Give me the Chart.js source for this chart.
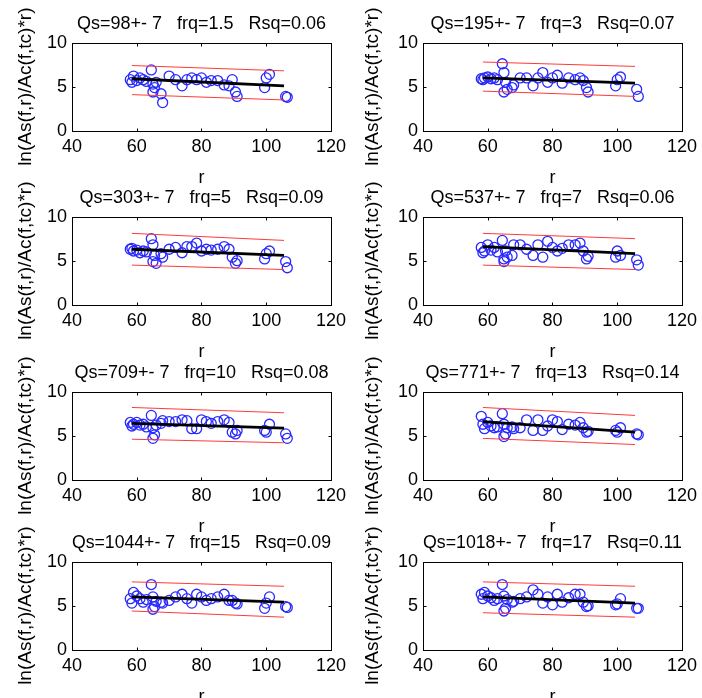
<!DOCTYPE html>
<html>
<head>
<meta charset="utf-8">
<script src="https://cdn.jsdelivr.net/npm/chart.js@4.4.1/dist/chart.umd.min.js"></script>
<style>
    html, body { margin: 0; padding: 0; background: #fff; }
    body { width: 702px; height: 698px; position: relative; overflow: hidden; }
    canvas { position: absolute; }
</style>
</head>
<body>
<script>
// hypocentral distance r of every record (same stations in every panel)
const distances = [58, 58.5, 59, 60, 61, 62, 63, 64.5, 65, 65, 65.5, 66, 67.5, 68, 70, 72, 74, 75.5, 77,
    78.5, 80, 81.5, 83, 85, 87, 88.5, 89.5, 90.5, 91, 99.5, 100, 101, 106, 106.5];

// ln(As/Ac * r) per frequency band
const lnAmpF1_5 = [5.8, 5.5, 6.2, 5.7, 6.0, 5.8, 5.6, 6.9, 4.4, 5.3, 4.9, 5.5, 4.2, 3.2, 6.2, 5.8, 5.1, 5.8, 6.0,
    5.8, 6.0, 5.5, 5.7, 5.7, 5.2, 5.1, 5.8, 4.4, 3.9, 4.9, 6.0, 6.4, 3.9, 3.8];
const lnAmpF3 = [5.9, 5.8, 6.0, 6.1, 5.9, 6.0, 5.8, 7.6, 4.4, 6.6, 5.5, 4.7, 4.9, 5.2, 6.0, 6.0, 5.1, 6.0, 6.6,
    5.5, 6.0, 6.3, 5.4, 6.0, 5.8, 6.0, 5.7, 4.9, 4.4, 5.1, 5.8, 6.1, 4.7, 3.9];
const lnAmpF5 = [6.3, 6.4, 6.1, 6.2, 5.9, 6.1, 6.0, 7.5, 4.9, 6.8, 5.6, 4.7, 5.8, 5.4, 6.3, 6.5, 5.9, 6.6, 6.6,
    7.0, 6.1, 6.3, 6.2, 6.3, 6.6, 6.3, 5.4, 4.7, 5.0, 5.2, 5.8, 6.1, 4.9, 4.2];
const lnAmpF7 = [6.5, 5.9, 6.1, 6.8, 6.2, 6.5, 6.0, 7.3, 4.9, 5.2, 6.1, 5.4, 5.6, 6.8, 6.8, 6.3, 5.6, 6.8, 5.4,
    7.2, 6.5, 6.1, 6.4, 6.8, 6.8, 7.0, 6.1, 5.2, 5.5, 5.4, 6.1, 5.6, 5.1, 4.5];
const lnAmpF10 = [6.5, 6.1, 6.3, 6.5, 6.2, 6.3, 6.0, 7.3, 4.7, 5.9, 5.1, 6.2, 6.4, 6.7, 6.6, 6.6, 6.8, 6.7, 5.8,
    5.8, 6.8, 6.6, 6.4, 6.6, 6.8, 6.5, 5.4, 5.2, 5.6, 5.6, 5.4, 6.3, 5.2, 4.7];
const lnAmpF13 = [7.2, 6.3, 5.8, 6.5, 6.1, 5.9, 6.0, 7.5, 4.9, 6.3, 5.2, 5.9, 6.0, 5.8, 5.9, 6.8, 5.6, 6.8, 5.6,
    6.1, 6.8, 6.6, 5.7, 6.3, 6.2, 6.5, 5.9, 5.4, 5.5, 5.6, 5.4, 5.9, 5.2, 5.1];
const lnAmpF15 = [5.8, 5.3, 6.5, 6.1, 5.8, 5.4, 5.7, 7.4, 4.6, 6.0, 4.9, 5.5, 5.4, 5.3, 5.6, 6.0, 6.3, 5.8, 5.3,
    6.3, 6.0, 5.6, 5.8, 6.0, 6.3, 5.6, 5.6, 5.3, 5.2, 4.7, 5.3, 6.0, 4.9, 4.8];
const lnAmpF17 = [6.3, 5.8, 6.5, 6.1, 5.9, 5.6, 5.8, 7.4, 4.4, 6.1, 4.7, 5.7, 5.4, 5.5, 5.8, 6.0, 6.8, 6.3, 5.3,
    6.0, 5.1, 6.3, 5.4, 5.9, 6.3, 6.3, 5.4, 4.9, 5.0, 5.1, 5.2, 5.8, 4.7, 4.7];
const panelValues = [lnAmpF1_5, lnAmpF3, lnAmpF5, lnAmpF7, lnAmpF10, lnAmpF13, lnAmpF15, lnAmpF17];

const qsValues = [98, 195, 303, 537, 709, 771, 1044, 1018];
const qsError = 7;
const frqValues = ["1.5", "3", "5", "7", "10", "13", "15", "17"];
const rsqValues = ["0.06", "0.07", "0.09", "0.06", "0.08", "0.14", "0.09", "0.11"];

// regression line and the two red bounds, value at the start and end of the fit range
const fitRange = [58.5, 105.5];
const fitStart = [5.9, 6.0, 6.3, 6.6, 6.4, 6.6, 6.0, 6.0];
const fitEnd = [5.1, 5.4, 5.6, 5.8, 5.85, 5.4, 5.4, 5.3];
const upperStart = [7.4, 7.8, 8.1, 8.1, 8.2, 8.2, 7.7, 7.7];
const upperEnd = [6.8, 7.3, 7.3, 7.5, 7.6, 7.3, 7.2, 7.2];
const lowerStart = [4.1, 4.5, 4.5, 4.5, 4.6, 4.7, 4.4, 4.2];
const lowerEnd = [3.5, 3.9, 4.0, 4.0, 4.2, 4.0, 3.7, 3.7];

const xTicks = { min: 40, max: 120, step: 20 };
const yTicks = { min: 0, max: 10, step: 5 };

// layout of the 4x2 grid
const rowTops = [0, 174, 349, 519];
const colLefts = [0, 351];
const yTitlePad = [14, 10];
const FONT = "'Liberation Sans', Arial, Helvetica, sans-serif";

// matlab style frame with the small inward tick marks
const boxFrame = {
    id: 'boxFrame',
    afterDraw(chart) {
        const { ctx, chartArea: a } = chart;
        const x = chart.scales.x, y = chart.scales.y;
        const L = Math.round(a.left) + 0.5, R = Math.round(a.right) + 0.5;
        const T = Math.round(a.top) + 0.5, B = Math.round(a.bottom) + 0.5;
        ctx.save();
        ctx.strokeStyle = '#000';
        ctx.lineWidth = 1;
        ctx.strokeRect(L, T, R - L, B - T);
        ctx.beginPath();
        x.ticks.forEach(t => {
            if (t.value <= x.min || t.value >= x.max) return;
            const px = Math.round(x.getPixelForValue(t.value)) + 0.5;
            ctx.moveTo(px, B); ctx.lineTo(px, B - 3);
            ctx.moveTo(px, T); ctx.lineTo(px, T + 3);
        });
        y.ticks.forEach(t => {
            if (t.value <= y.min || t.value >= y.max) return;
            const py = Math.round(y.getPixelForValue(t.value)) + 0.5;
            ctx.moveTo(L, py); ctx.lineTo(L + 3, py);
            ctx.moveTo(R, py); ctx.lineTo(R - 3, py);
        });
        ctx.stroke();
        ctx.restore();
    }
};

function makePanel(idx) {
    const col = idx % 2, row = Math.floor(idx / 2);
    const cv = document.createElement('canvas');
    cv.width = 351;
    cv.height = 190;
    cv.style.left = colLefts[col] + 'px';
    cv.style.top = rowTops[row] + 'px';
    document.body.appendChild(cv);

    const yVals = panelValues[idx];
    const points = distances.map((r, k) => ({ x: r, y: yVals[k] }));
    const line = (a, b) => [{ x: fitRange[0], y: a }, { x: fitRange[1], y: b }];
    const font = { family: FONT, size: 18, weight: 'normal' };

    new Chart(cv.getContext('2d'), {
        type: 'scatter',
        data: {
            datasets: [
                { data: line(fitStart[idx], fitEnd[idx]), showLine: true, borderColor: '#000',
                  borderWidth: 2.8, pointRadius: 0, order: 0 },
                { data: line(upperStart[idx], upperEnd[idx]), showLine: true, borderColor: '#ff3a3a',
                  borderWidth: 1, pointRadius: 0, order: 1 },
                { data: line(lowerStart[idx], lowerEnd[idx]), showLine: true, borderColor: '#ff3a3a',
                  borderWidth: 1, pointRadius: 0, order: 1 },
                { data: points, pointStyle: 'circle', pointRadius: 5, borderWidth: 1.3,
                  borderColor: '#2a2aff', backgroundColor: 'rgba(0,0,0,0)', order: 2 }
            ]
        },
        options: {
            responsive: false, animation: false, events: [],
            layout: { padding: { left: 0, right: 18, top: 0, bottom: 1 } },
            plugins: {
                legend: { display: false },
                tooltip: { enabled: false },
                title: {
                    display: true, fullSize: false, color: '#000', font: font,
                    text: `Qs=${qsValues[idx]}+- ${qsError}   frq=${frqValues[idx]}   Rsq=${rsqValues[idx]}`,
                    padding: { top: 13, bottom: 8 }
                }
            },
            scales: {
                x: {
                    type: 'linear', min: xTicks.min, max: xTicks.max,
                    grid: { display: false, drawTicks: false }, border: { display: false },
                    ticks: { stepSize: xTicks.step, padding: 5, color: '#000', font: font, maxRotation: 0 },
                    title: { display: true, text: 'r', color: '#000', font: font, padding: { top: 5, bottom: 0 } }
                },
                y: {
                    min: yTicks.min, max: yTicks.max,
                    afterFit: (s) => { s.width = 72; },
                    grid: { display: false, drawTicks: false }, border: { display: false },
                    ticks: { stepSize: yTicks.step, padding: 5, color: '#000', font: font },
                    title: { display: true, text: 'ln(As(f,r)/Ac(f,tc)*r)', color: '#000',
                             font: { family: FONT, size: 19, weight: 'normal' },
                             padding: { top: yTitlePad[col], bottom: 0 } }
                }
            }
        },
        plugins: [boxFrame]
    });
}

for (let i = 0; i < panelValues.length; i++) makePanel(i);
</script>
</body>
</html>
